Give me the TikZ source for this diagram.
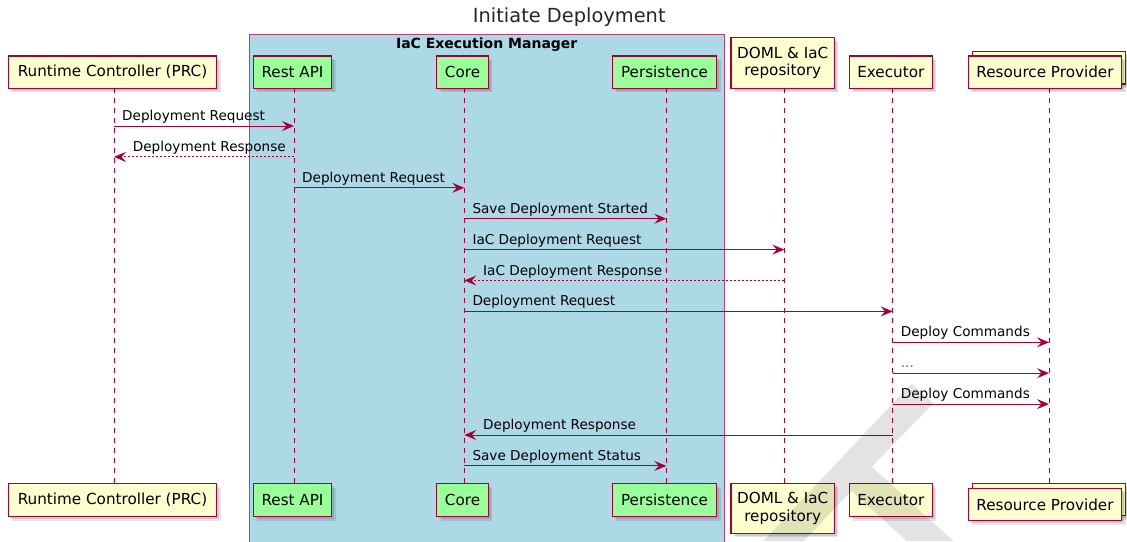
\documentclass[tikz,border=0pt]{standalone}
\usepackage{fontspec}
\setmainfont{DejaVu Sans}
\usetikzlibrary{arrows.meta}
\definecolor{crim}{HTML}{A80036}
\definecolor{partyel}{HTML}{FEFECE}
\definecolor{partgrn}{HTML}{99FF99}
\definecolor{boxblue}{HTML}{ADD8E6}
\newcommand\partfont{\fontsize{15.2}{17.5}\selectfont}
\newcommand\msgfont{\fontsize{13.6}{16}\selectfont}
\tikzset{
 part/.style={draw=crim, line width=1.2pt, fill=partyel, inner sep=0pt, font=\partfont, align=center,
   preaction={fill=black, opacity=0.10, transform canvas={xshift=4pt,yshift=-4pt}},
   preaction={fill=black, opacity=0.10, transform canvas={xshift=2.5pt,yshift=-2.5pt}}},
 partg/.style={part, fill=partgrn},
 life/.style={draw=crim, line width=0.9pt, dash pattern=on 5pt off 5pt},
 msg/.style={draw=crim, line width=1pt, -{Stealth[length=12pt,width=10pt,inset=4.5pt]}},
 reply/.style={msg, dash pattern=on 2pt off 2pt},
 lbl/.style={font=\msgfont, inner sep=0pt, anchor=base west},
}
\begin{document}
\begin{tikzpicture}[x=1pt,y=-1pt]
\useasboundingbox (0,0) rectangle (1127,541);
\fill[white] (0,0) rectangle (1127,541);
% group box
\draw[crim!75, line width=1pt, fill=boxblue] (249,34) rectangle (724.3,548);
\node[font=\bfseries\fontsize{14}{16}\selectfont, anchor=base, inner sep=0pt] (boxttl) at (486.7,48.3) {IaC Execution Manager};
\node[font=\fontsize{19.4}{22}\selectfont, anchor=base, inner sep=0pt, text=black!85] (title) at (569.3,22.7) {Initiate Deployment};
% lifeline x positions
\coordinate (lPRC) at (114,0);
\coordinate (lRest) at (294,0);
\coordinate (lCore) at (464.3,0);
\coordinate (lPers) at (666.3,0);
\coordinate (lDoml) at (784.3,0);
\coordinate (lExec) at (892.7,0);
\coordinate (lRP) at (1049,0);
\coordinate (ltop) at (0,88.3);
\coordinate (lbot) at (0,483.3);
\foreach \l in {lPRC,lRest,lCore,lPers,lDoml,lExec,lRP}
  \draw[life] (\l |- ltop) -- (\l |- lbot);
% top participants
\node[part, minimum width=208.4, minimum height=32.3] (prcT) at (112.5,72.2) {Runtime Controller (PRC)};
\node[partg, minimum width=78.4, minimum height=32.3] (restT) at (292.5,72.2) {Rest API};
\node[partg, minimum width=51.6, minimum height=32.3] (coreT) at (462.5,72.2) {Core};
\node[partg, minimum width=104.4, minimum height=32.3] (persT) at (664.5,72.2) {Persistence};
\node[part, minimum width=103.3, minimum height=50.6] (domlT) at (782.7,63) {DOML \& IaC\\repository};
\node[part, minimum width=83, minimum height=32.3] (execT) at (890.8,72.2) {Executor};
\node[part, minimum width=153.4, minimum height=32.3] (rpTb) at (1049,67.9) {};
\node[part, minimum width=153.4, minimum height=32.3] (rpT) at (1045,72.2) {Resource Provider};
% bottom participants
\node[part, minimum width=208.4, minimum height=33] (prcB) at (112.5,500) {Runtime Controller (PRC)};
\node[partg, minimum width=78.4, minimum height=33] (restB) at (292.5,500) {Rest API};
\node[partg, minimum width=51.6, minimum height=33] (coreB) at (462.5,500) {Core};
\node[partg, minimum width=104.4, minimum height=33] (persB) at (664.5,500) {Persistence};
\node[part, minimum width=103.3, minimum height=50] (domlB) at (782.7,508.3) {DOML \& IaC\\repository};
\node[part, minimum width=83, minimum height=33] (execB) at (890.8,500) {Executor};
\node[part, minimum width=153.4, minimum height=32.3] (rpBb) at (1049,499.5) {};
\node[part, minimum width=153.4, minimum height=32.3] (rpB) at (1045,504.5) {Resource Provider};
% message rows
\coordinate (m1) at (0,126);
\coordinate (m2) at (0,156.9);
\coordinate (m3) at (0,187.8);
\coordinate (m4) at (0,218.7);
\coordinate (m5) at (0,249.6);
\coordinate (m6) at (0,280.5);
\coordinate (m7) at (0,311.4);
\coordinate (m8) at (0,342.3);
\coordinate (m9) at (0,373.2);
\coordinate (m10) at (0,404.1);
\coordinate (m11) at (0,435);
\coordinate (m12) at (0,465.9);
% messages
\draw[msg] (lPRC |- m1) -- (lRest |- m1);
\path (lPRC |- m1) ++(8,-5.5) node[lbl] (t1) {Deployment Request};
\draw[reply] (lRest |- m2) -- (lPRC |- m2);
\path (lPRC |- m2) ++(18.7,-5.5) node[lbl] (t2) {Deployment Response};
\draw[msg] (lRest |- m3) -- (lCore |- m3);
\path (lRest |- m3) ++(8,-5.5) node[lbl] (t3) {Deployment Request};
\draw[msg] (lCore |- m4) -- (lPers |- m4);
\path (lCore |- m4) ++(8,-5.5) node[lbl] (t4) {Save Deployment Started};
\draw[msg] (lCore |- m5) -- (lDoml |- m5);
\path (lCore |- m5) ++(8,-5.5) node[lbl] (t5) {IaC Deployment Request};
\draw[reply] (lDoml |- m6) -- (lCore |- m6);
\path (lCore |- m6) ++(18.7,-5.5) node[lbl] (t6) {IaC Deployment Response};
\draw[msg] (lCore |- m7) -- (lExec |- m7);
\path (lCore |- m7) ++(8,-5.5) node[lbl] (t7) {Deployment Request};
\draw[msg] (lExec |- m8) -- (lRP |- m8);
\path (lExec |- m8) ++(8,-5.5) node[lbl] (t8) {Deploy Commands};
\draw[msg] (lExec |- m9) -- (lRP |- m9);
\path (lExec |- m9) ++(8,-5.5) node[lbl, text=black!60] (t9) {...};
\draw[msg] (lExec |- m10) -- (lRP |- m10);
\path (lExec |- m10) ++(8,-5.5) node[lbl] (t10) {Deploy Commands};
\draw[msg] (lExec |- m11) -- (lCore |- m11);
\path (lCore |- m11) ++(18.7,-5.5) node[lbl] (t11) {Deployment Response};
\draw[msg] (lCore |- m12) -- (lPers |- m12);
\path (lCore |- m12) ++(8,-5.5) node[lbl] (t12) {Save Deployment Status};
% watermark
\fill[black, opacity=0.11] (763.3,541) -- (911.7,383.3) -- (933.3,403.3) -- (871.7,466.7)
  -- (953.3,541) -- (906.7,541) -- (851.3,490.7) -- (803.8,541) -- cycle;
\end{tikzpicture}
\end{document}
